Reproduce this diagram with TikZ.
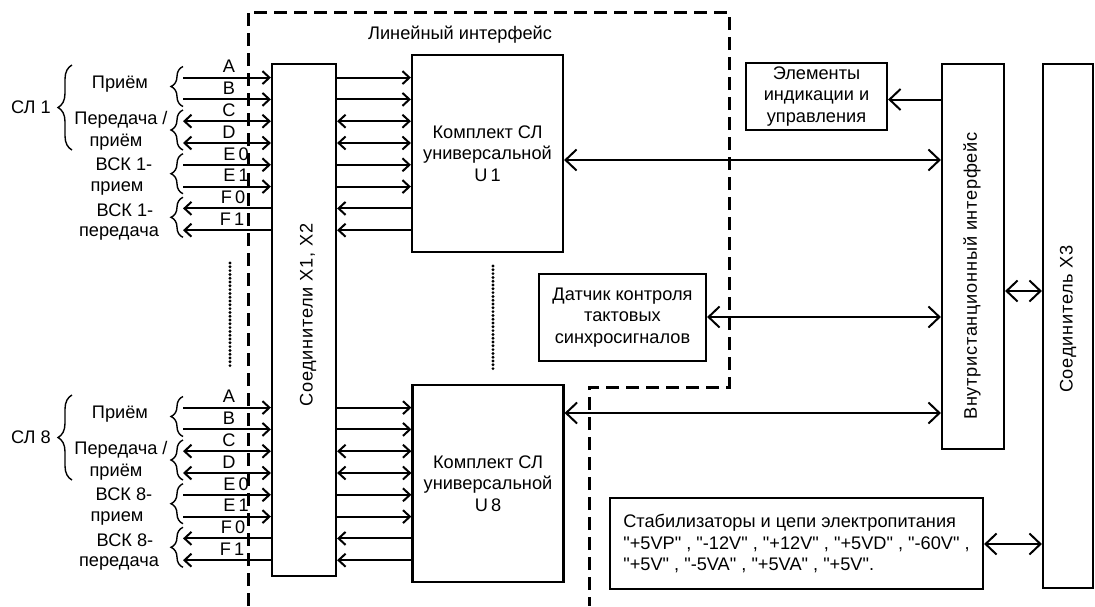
\documentclass[tikz,border=0pt]{standalone}
\usepackage{fontspec}
\setmainfont{Liberation Sans}[Ligatures=TeXOff]
\newfontfamily\spaced{Liberation Sans}[Ligatures=TeXOff, LetterSpace=4]
\usetikzlibrary{arrows.meta,decorations.pathreplacing}

\begin{document}
\begin{tikzpicture}[x=1pt,y=-1pt,
  every node/.style={font=\fontsize{18.2}{21.5}\selectfont, inner sep=0pt},
  vlab/.style={rotate=90, font=\spaced\fontsize{18.2}{21.5}\selectfont},
  box/.style={draw, line width=2.2pt, inner sep=0pt},
  wire/.style={line width=2pt},
  fwd/.style={wire, -{Straight Barb[length=7pt,width=13pt]}},
  bwd/.style={wire, {Straight Barb[length=7pt,width=13pt]}-},
  both/.style={wire, {Straight Barb[length=7pt,width=13pt]}-{Straight Barb[length=7pt,width=13pt]}},
  bigfwd/.style={wire, -{Straight Barb[length=11pt,width=21pt]}},
  bigboth/.style={wire, {Straight Barb[length=11pt,width=21pt]}-{Straight Barb[length=11pt,width=21pt]}},
  boundary/.style={line width=3pt, dash pattern=on 13pt off 7pt},
  dots/.style={line width=3.2pt, line cap=round, dash pattern=on 0pt off 3.8pt},
  brc/.style={decorate, decoration={brace, amplitude=#1}, line width=1.4pt},
  brc/.default=12pt,
]
\useasboundingbox (0,0) rectangle (1095,606);
\fill[white] (0,0) rectangle (1095,606);

% connector block X1, X2
\node[box, minimum width=64pt, minimum height=512pt] (cx) at (304,320) {};
\node[vlab] (cxlab) at (308,315) {Соединители X1, X2};

% line units
\node[box, minimum width=151pt, minimum height=197pt, align=center] (u1) at (487.5,153.5)
  {Комплект СЛ\\универсальной\\U\thinspace 1};
\node[box, minimum width=151pt, minimum height=197pt, align=center] (u8) at (488,483.5)
  {Комплект СЛ\\универсальной\\U\thinspace 8};

% right-hand blocks
\node[box, minimum width=141pt, minimum height=67pt, align=center] (ind) at (816.5,96.5)
  {Элементы\\индикации и\\управления};
\node[box, minimum width=167pt, minimum height=87pt, align=center] (sens) at (622.5,317.5)
  {Датчик контроля\\тактовых\\синхросигналов};
\node[box, minimum width=62pt, minimum height=385pt] (inner) at (973,256.5) {};
\node[vlab] (innerlab) at (972,276) {Внутристанционный интерфейс};
\node[box, minimum width=50pt, minimum height=524pt] (x3) at (1068,326) {};
\node[vlab] (x3lab) at (1068,319) {Соединитель X3};
\node[box, minimum width=373pt, minimum height=91pt, align=left] (stab) at (796.5,543.5)
  {Стабилизаторы и цепи электропитания\\
   "+5VP" , "-12V" , "+12V" , "+5VD" , "-60V" ,\\
   "+5V" , "-5VA" , "+5VA" , "+5V".};

% links to the in-station interface
\draw[bigfwd]  (inner.west |- 0,99.5) -- (ind.east |- 0,99.5);
\draw[bigboth] (u1.east |- 0,160) -- (inner.west |- 0,160);
\draw[bigboth] (sens.east |- 0,317) -- (inner.west |- 0,317);
\draw[bigboth] (u8.east |- 0,413) -- (inner.west |- 0,413);
\draw[bigboth] (inner.east |- 0,291) -- (x3.west |- 0,291);
\draw[bigboth] (stab.east |- 0,544) -- (x3.west |- 0,544);

% subscriber line groups 1 and 8
\foreach \g/\oy in {1/0, 8/330} {
  \foreach \i/\lab/\kind/\lx in {0/A/fwd/229, 1/B/fwd/229, 2/C/both/229, 3/D/both/229,
      4/E\thinspace 0/fwd/236, 5/E\thinspace 1/fwd/236, 6/F\thinspace 0/bwd/233, 7/F\thinspace 1/bwd/232} {
    \pgfmathsetmacro\yy{77.6+21.8*\i+\oy}
    \coordinate (in\g-\i) at (183,\yy);
    \draw[\kind] (in\g-\i) -- (cx.west |- 0,\yy);
    \draw[\kind] (cx.east |- 0,\yy) -- (u\g.west |- 0,\yy);
    \node (lab\g-\i) at (\lx,\yy-11) {\lab};
  }
  % braces over the wire pairs
  \draw[brc] (183,106.5+\oy) -- (183,66.5+\oy);
  \draw[brc] (183,150+\oy) -- (183,110+\oy);
  \draw[brc] (183,193.7+\oy) -- (183,153.7+\oy);
  \draw[brc] (183,237.3+\oy) -- (183,197.3+\oy);
  \draw[brc=14pt] (72,150+\oy) -- (72,65+\oy);
  \node[anchor=east] (sl\g) at (51,107+\oy) {СЛ \g};
  \node (rx\g) at (120,84+\oy) {Приём};
  \node (tx\g) at (121,120+\oy) {Передача /};
  \node (trx\g) at (116,142+\oy) {приём};
  \node (vr\g) at (124,164+\oy) {ВСК \g-};
  \node (vrr\g) at (117,188+\oy) {прием};
  \node (vt\g) at (125,210+\oy) {ВСК \g-};
  \node (vtt\g) at (119,233+\oy) {передача};
}

% continuation marks between groups
\draw[dots] (230,263) -- (230,367);
\draw[dots] (493,266) -- (493,370);

% line interface boundary
\draw[boundary] (248,606) -- (248,12) -- (729,12) -- (729,387) -- (589,387) -- (589,606);
\node (lif) at (460,35) {Линейный интерфейс};
\end{tikzpicture}
\end{document}
